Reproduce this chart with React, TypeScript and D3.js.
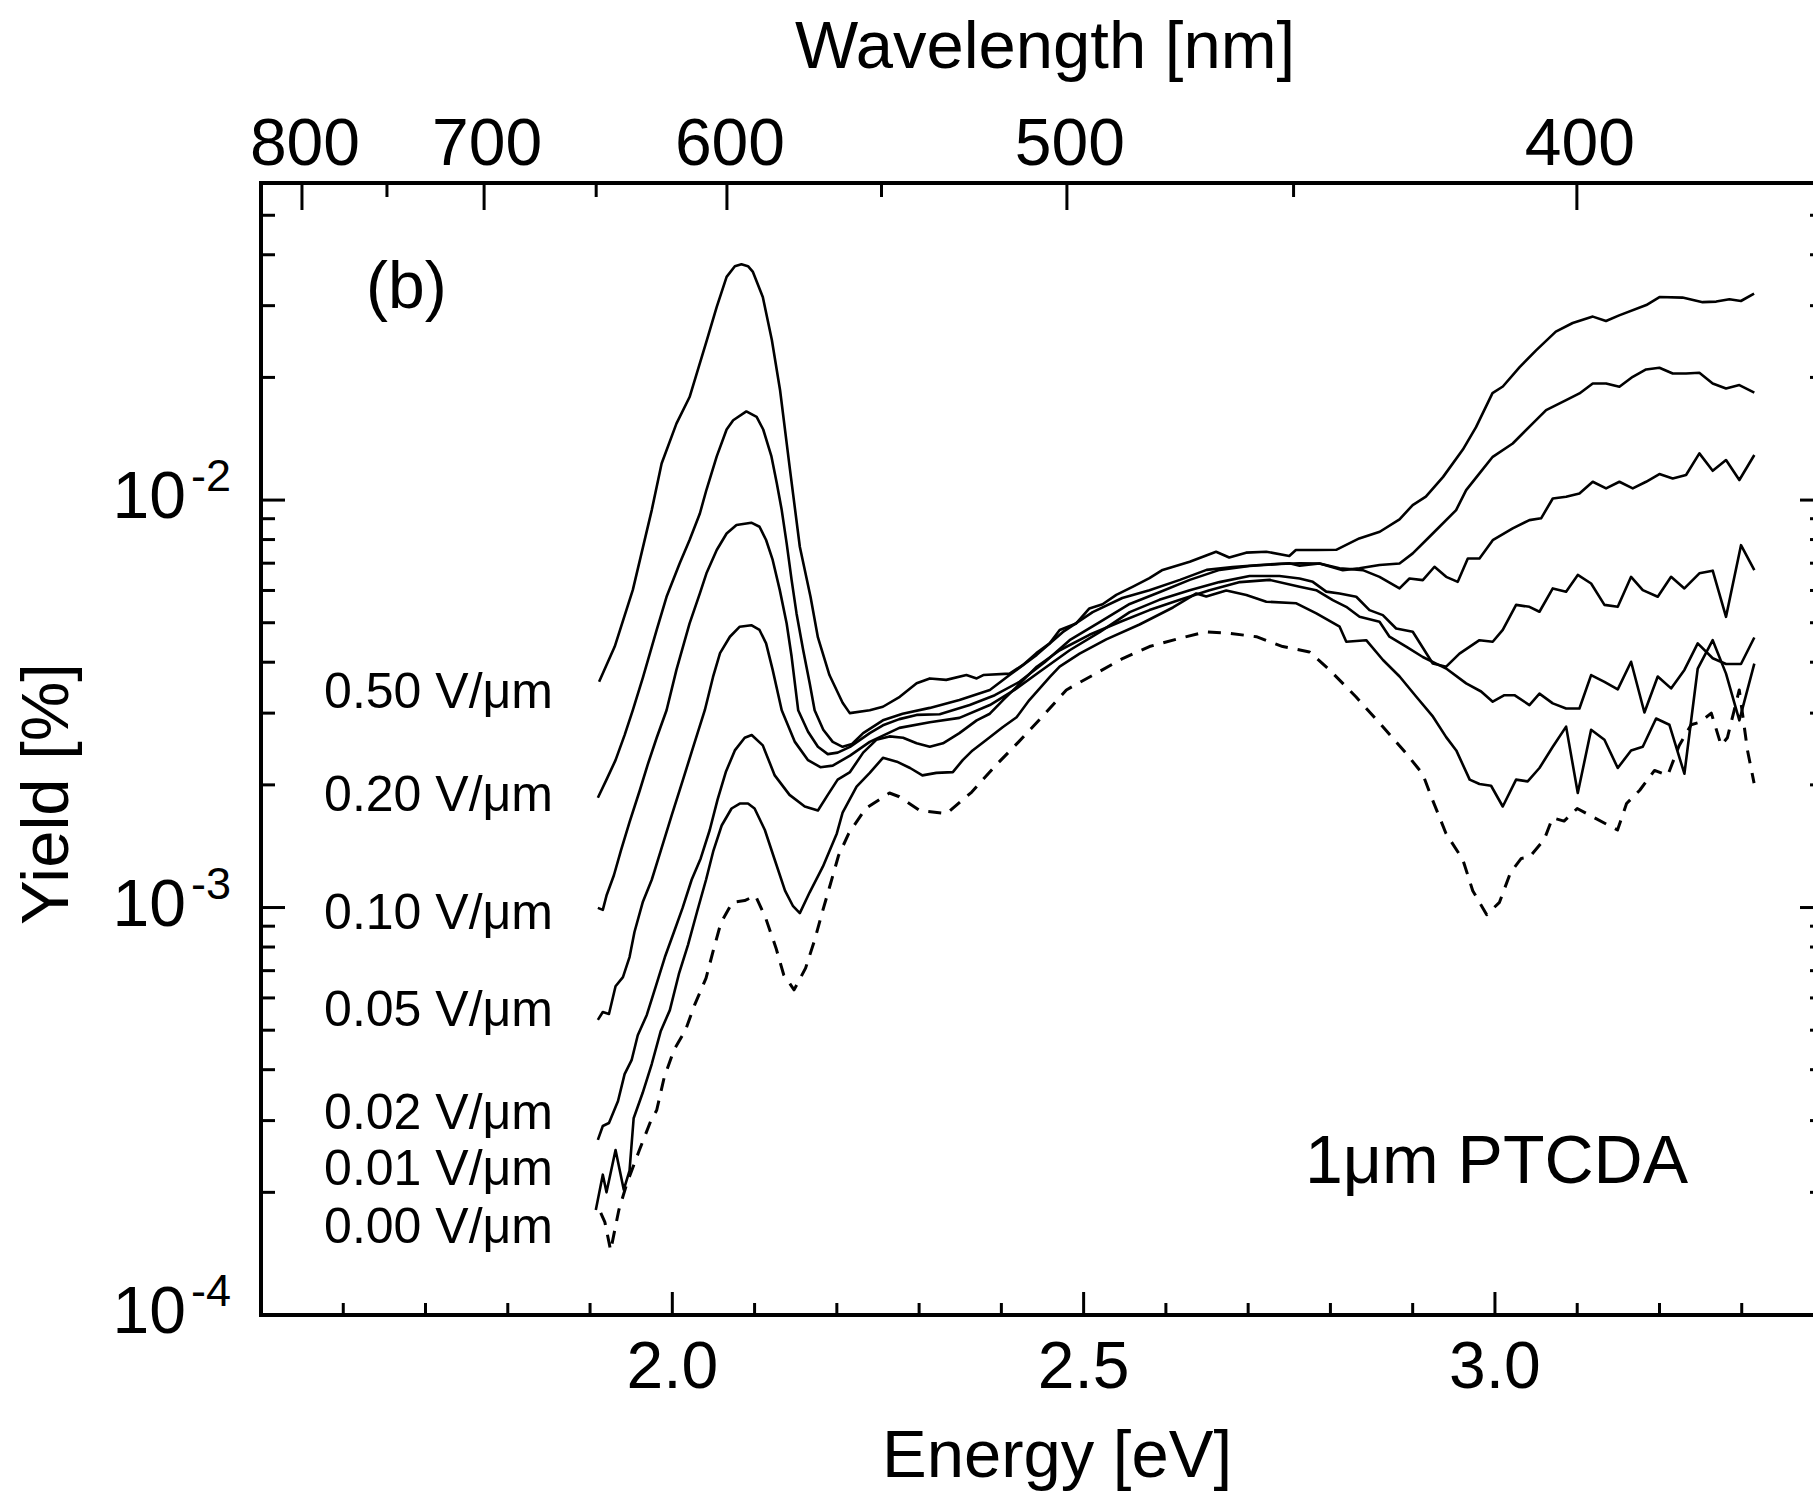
import React from "react";
import * as d3 from "d3";

// ---------- axis definitions ----------
const energyDomain: [number, number] = [1.5, 3.4];
const yieldDomain: [number, number] = [1e-4, 0.06];
const energyMajorTicks = [2.0, 2.5, 3.0];
const energyTickLabels = ["2.0", "2.5", "3.0"];
const wavelengthMajor = [800, 700, 600, 500, 400];
const wavelengthMinor = [750, 650, 550, 450];
const yieldDecades = [1e-4, 1e-3, 1e-2];
const yieldDecadeExp = ["-4", "-3", "-2"];
const HC = 1239.84; // eV*nm

// ---------- series: [energy eV, yield %] ----------
const s050: [number, number][] = [
  [1.911, 3.58e-3], [1.93, 4.37e-3], [1.952, 6.02e-3], [1.975, 9.45e-3], [1.987, 1.23e-2],
  [2.005, 1.54e-2], [2.021, 1.79e-2], [2.042, 2.47e-2], [2.054, 2.98e-2], [2.066, 3.53e-2],
  [2.076, 3.75e-2], [2.084, 3.79e-2], [2.092, 3.75e-2], [2.098, 3.63e-2], [2.11, 3.15e-2],
  [2.121, 2.47e-2], [2.131, 1.86e-2], [2.143, 1.19e-2], [2.155, 7.68e-3], [2.168, 5.79e-3],
  [2.177, 4.6e-3], [2.191, 3.72e-3], [2.207, 3.18e-3], [2.2157, 3.0e-3], [2.24, 3.05e-3],
  [2.256, 3.11e-3], [2.2765, 3.29e-3], [2.297, 3.55e-3], [2.313, 3.65e-3], [2.333, 3.62e-3],
  [2.3575, 3.72e-3], [2.37, 3.65e-3], [2.378, 3.72e-3], [2.41, 3.75e-3], [2.4263, 3.94e-3],
  [2.4425, 4.21e-3], [2.4587, 4.45e-3], [2.4709, 4.8e-3], [2.491, 4.98e-3], [2.507, 5.42e-3],
  [2.523, 5.55e-3], [2.5397, 5.85e-3], [2.56, 6.13e-3], [2.58, 6.43e-3], [2.596, 6.74e-3],
  [2.629, 7.06e-3], [2.661, 7.47e-3], [2.677, 7.23e-3], [2.6975, 7.43e-3], [2.722, 7.47e-3],
  [2.75, 7.29e-3], [2.758, 7.54e-3], [2.783, 7.54e-3], [2.807, 7.55e-3], [2.835, 8.05e-3],
  [2.86, 8.36e-3], [2.884, 8.97e-3], [2.9, 9.72e-3], [2.916, 1.02e-2], [2.937, 1.14e-2],
  [2.961, 1.33e-2], [2.977, 1.51e-2], [2.997, 1.83e-2], [3.0096, 1.9e-2], [3.03, 2.12e-2],
  [3.05, 2.33e-2], [3.074, 2.59e-2], [3.0945, 2.72e-2], [3.119, 2.82e-2], [3.135, 2.75e-2],
  [3.151, 2.84e-2], [3.184, 3.01e-2], [3.2, 3.15e-2], [3.228, 3.14e-2], [3.2525, 3.06e-2],
  [3.269, 3.07e-2], [3.285, 3.11e-2], [3.299, 3.08e-2], [3.315, 3.21e-2],
];

const s020: [number, number][] = [
  [1.9095, 1.86e-3], [1.92, 2.06e-3], [1.931, 2.3e-3], [1.942, 2.65e-3], [1.952, 3.05e-3],
  [1.9645, 3.68e-3], [1.981, 4.8e-3], [1.993, 5.79e-3], [2.009, 7.0e-3], [2.021, 7.98e-3],
  [2.0335, 9.27e-3], [2.0415, 1.06e-2], [2.054, 1.28e-2], [2.066, 1.49e-2], [2.074, 1.57e-2],
  [2.09, 1.65e-2], [2.1025, 1.6e-2], [2.1105, 1.49e-2], [2.1205, 1.28e-2], [2.127, 1.1e-2],
  [2.133, 9.45e-3], [2.139, 7.83e-3], [2.145, 6.37e-3], [2.151, 5.27e-3], [2.159, 4.29e-3],
  [2.167, 3.55e-3], [2.173, 3.05e-3], [2.1835, 2.73e-3], [2.195, 2.55e-3], [2.207, 2.48e-3],
  [2.2185, 2.52e-3], [2.232, 2.68e-3], [2.256, 2.88e-3], [2.28, 2.99e-3], [2.313, 3.09e-3],
  [2.349, 3.23e-3], [2.386, 3.42e-3], [2.41, 3.72e-3], [2.443, 4.17e-3], [2.4745, 4.74e-3],
  [2.511, 5.31e-3], [2.547, 5.75e-3], [2.58, 6.01e-3], [2.617, 6.37e-3], [2.6495, 6.74e-3],
  [2.681, 6.85e-3], [2.714, 6.93e-3], [2.75, 7.0e-3], [2.7625, 6.9e-3], [2.7868, 6.99e-3],
  [2.8151, 6.73e-3], [2.8354, 6.8e-3], [2.8597, 6.93e-3], [2.884, 6.99e-3], [2.9001, 7.4e-3],
  [2.9244, 8.28e-3], [2.9528, 9.45e-3], [2.965, 1.058e-2], [2.9812, 1.163e-2], [2.9973, 1.277e-2],
  [3.0216, 1.377e-2], [3.046, 1.542e-2], [3.0622, 1.663e-2], [3.0865, 1.759e-2], [3.1027, 1.827e-2],
  [3.1189, 1.933e-2], [3.1351, 1.933e-2], [3.1513, 1.897e-2], [3.1675, 2.007e-2], [3.1837, 2.092e-2],
  [3.1999, 2.112e-2], [3.2161, 2.045e-2], [3.2323, 2.045e-2], [3.2485, 2.053e-2], [3.2647, 1.933e-2],
  [3.2809, 1.879e-2], [3.2971, 1.915e-2], [3.3153, 1.836e-2],
];

const s010: [number, number][] = [
  [1.9095, 9.98e-4], [1.9155, 9.87e-4], [1.92, 1.07e-3], [1.929, 1.2e-3], [1.9375, 1.38e-3],
  [1.948, 1.62e-3], [1.9605, 1.94e-3], [1.97, 2.24e-3], [1.981, 2.61e-3], [1.993, 3.05e-3],
  [2.005, 3.83e-3], [2.021, 4.98e-3], [2.0335, 5.9e-3], [2.0415, 6.61e-3], [2.054, 7.54e-3],
  [2.066, 8.28e-3], [2.078, 8.69e-3], [2.096, 8.8e-3], [2.106, 8.6e-3], [2.114, 7.98e-3],
  [2.122, 7.13e-3], [2.1306, 6.02e-3], [2.139, 4.98e-3], [2.145, 4.13e-3], [2.153, 3.05e-3],
  [2.165, 2.7e-3], [2.177, 2.48e-3], [2.189, 2.38e-3], [2.201, 2.4e-3], [2.216, 2.48e-3],
  [2.24, 2.68e-3], [2.256, 2.8e-3], [2.276, 2.9e-3], [2.297, 2.97e-3], [2.325, 2.98e-3],
  [2.3615, 3.14e-3], [2.392, 3.32e-3], [2.422, 3.58e-3], [2.4526, 4.0e-3], [2.483, 4.53e-3],
  [2.5195, 5.02e-3], [2.556, 5.56e-3], [2.592, 5.94e-3], [2.629, 6.37e-3], [2.6653, 6.74e-3],
  [2.7017, 6.89e-3], [2.738, 6.97e-3], [2.7625, 7.0e-3], [2.7868, 6.99e-3], [2.8111, 6.8e-3],
  [2.8394, 6.73e-3], [2.8597, 6.48e-3], [2.884, 6.07e-3], [2.8961, 6.42e-3], [2.9123, 6.36e-3],
  [2.9265, 6.86e-3], [2.9407, 6.48e-3], [2.9548, 6.3e-3], [2.967, 7.19e-3], [2.9812, 7.19e-3],
  [2.9973, 7.97e-3], [3.0216, 8.52e-3], [3.0419, 8.93e-3], [3.0561, 9.02e-3], [3.0703, 1.009e-2],
  [3.0865, 1.019e-2], [3.1027, 1.038e-2], [3.1189, 1.109e-2], [3.1351, 1.068e-2], [3.1513, 1.109e-2],
  [3.1675, 1.068e-2], [3.1837, 1.109e-2], [3.1999, 1.158e-2], [3.2161, 1.13e-2], [3.2323, 1.152e-2],
  [3.2485, 1.302e-2], [3.2647, 1.18e-2], [3.2809, 1.254e-2], [3.2971, 1.12e-2], [3.3153, 1.29e-2],
];

const s005: [number, number][] = [
  [1.9095, 5.3e-4], [1.9155, 5.54e-4], [1.923, 5.48e-4], [1.931, 6.41e-4], [1.94, 6.75e-4],
  [1.948, 7.56e-4], [1.954, 8.71e-4], [1.964, 1.03e-3], [1.975, 1.17e-3], [1.986, 1.38e-3],
  [1.9995, 1.69e-3], [2.013, 2.06e-3], [2.026, 2.5e-3], [2.0395, 3.05e-3], [2.0495, 3.68e-3],
  [2.058, 4.21e-3], [2.07, 4.62e-3], [2.082, 4.89e-3], [2.096, 4.93e-3], [2.106, 4.8e-3],
  [2.114, 4.45e-3], [2.122, 3.83e-3], [2.133, 3.05e-3], [2.149, 2.55e-3], [2.165, 2.3e-3],
  [2.18, 2.21e-3], [2.195, 2.23e-3], [2.216, 2.36e-3], [2.24, 2.55e-3], [2.276, 2.76e-3],
  [2.313, 2.85e-3], [2.349, 2.92e-3], [2.386, 3.14e-3], [2.416, 3.42e-3], [2.4465, 3.79e-3],
  [2.483, 4.28e-3], [2.5195, 4.74e-3], [2.556, 5.31e-3], [2.592, 5.69e-3], [2.629, 6.01e-3],
  [2.665, 6.29e-3], [2.7017, 6.51e-3], [2.738, 6.51e-3], [2.7625, 6.42e-3], [2.7786, 6.3e-3],
  [2.7949, 5.96e-3], [2.8111, 5.9e-3], [2.8314, 5.79e-3], [2.8475, 5.37e-3], [2.8637, 5.22e-3],
  [2.8799, 4.84e-3], [2.9001, 4.75e-3], [2.9244, 3.97e-3], [2.9407, 3.9e-3], [2.9569, 4.2e-3],
  [2.9812, 4.53e-3], [2.9973, 4.49e-3], [3.0095, 4.8e-3], [3.0257, 5.53e-3], [3.0419, 5.47e-3],
  [3.0541, 5.32e-3], [3.0703, 6.07e-3], [3.0865, 5.96e-3], [3.1007, 6.55e-3], [3.1169, 6.24e-3],
  [3.1331, 5.53e-3], [3.1493, 5.47e-3], [3.1655, 6.48e-3], [3.1797, 6.01e-3], [3.1979, 5.79e-3],
  [3.2141, 6.48e-3], [3.2303, 6.07e-3], [3.2485, 6.61e-3], [3.2647, 6.71e-3], [3.2809, 5.17e-3],
  [3.2991, 7.75e-3], [3.3153, 6.73e-3],
];

const s002: [number, number][] = [
  [1.9095, 2.69e-4], [1.9155, 2.91e-4], [1.923, 2.96e-4], [1.934, 3.35e-4], [1.942, 3.9e-4],
  [1.9505, 4.22e-4], [1.958, 4.86e-4], [1.969, 5.45e-4], [1.98, 6.41e-4], [1.991, 7.56e-4],
  [2.002, 8.71e-4], [2.0125, 9.98e-4], [2.0235, 1.17e-3], [2.0345, 1.32e-3], [2.0455, 1.55e-3],
  [2.055, 1.84e-3], [2.065, 2.15e-3], [2.076, 2.43e-3], [2.088, 2.61e-3], [2.0965, 2.65e-3],
  [2.11, 2.5e-3], [2.1245, 2.11e-3], [2.1425, 1.89e-3], [2.161, 1.77e-3], [2.177, 1.73e-3],
  [2.189, 1.89e-3], [2.201, 2.06e-3], [2.216, 2.15e-3], [2.232, 2.4e-3], [2.248, 2.58e-3],
  [2.264, 2.63e-3], [2.2805, 2.61e-3], [2.297, 2.53e-3], [2.313, 2.48e-3], [2.329, 2.53e-3],
  [2.349, 2.68e-3], [2.37, 2.88e-3], [2.386, 2.99e-3], [2.402, 3.23e-3], [2.4185, 3.48e-3],
  [2.443, 3.9e-3], [2.471, 4.28e-3], [2.507, 4.67e-3], [2.544, 5.02e-3], [2.58, 5.37e-3],
  [2.617, 5.69e-3], [2.653, 6.01e-3], [2.69, 6.29e-3], [2.726, 6.37e-3], [2.7625, 6.13e-3],
  [2.7827, 6.01e-3], [2.8029, 5.68e-3], [2.8192, 5.47e-3], [2.8354, 5.17e-3], [2.8597, 5.03e-3],
  [2.8718, 4.62e-3], [2.8921, 4.37e-3], [2.9123, 4.12e-3], [2.9285, 3.97e-3], [2.9407, 3.86e-3],
  [2.965, 3.55e-3], [2.9832, 3.39e-3], [2.9973, 3.2e-3], [3.0115, 3.32e-3], [3.0237, 3.32e-3],
  [3.0419, 3.14e-3], [3.0541, 3.35e-3], [3.0703, 3.17e-3], [3.0865, 3.08e-3], [3.1027, 3.08e-3],
  [3.1169, 3.72e-3], [3.1331, 3.58e-3], [3.1493, 3.43e-3], [3.1655, 4.01e-3], [3.1817, 3.01e-3],
  [3.1979, 3.69e-3], [3.2141, 3.45e-3], [3.2303, 3.83e-3], [3.2465, 4.45e-3], [3.2647, 4.09e-3],
  [3.2809, 3.96e-3], [3.2991, 3.96e-3], [3.3153, 4.6e-3],
];

const s001: [number, number][] = [
  [1.907, 1.81e-4], [1.9155, 2.21e-4], [1.92, 2.0e-4], [1.931, 2.54e-4], [1.941, 2.03e-4],
  [1.948, 2.26e-4], [1.953, 3.04e-4], [1.964, 3.51e-4], [1.975, 4.13e-4], [1.986, 4.98e-4],
  [1.997, 5.6e-4], [2.008, 6.87e-4], [2.019, 8.09e-4], [2.03, 9.75e-4], [2.041, 1.17e-3],
  [2.05, 1.38e-3], [2.06, 1.59e-3], [2.072, 1.75e-3], [2.082, 1.8e-3], [2.092, 1.8e-3],
  [2.1, 1.75e-3], [2.1125, 1.55e-3], [2.1245, 1.31e-3], [2.137, 1.1e-3], [2.1465, 1.01e-3],
  [2.155, 9.69e-4], [2.167, 1.09e-3], [2.183, 1.26e-3], [2.2, 1.52e-3], [2.207, 1.71e-3],
  [2.224, 1.98e-3], [2.24, 2.14e-3], [2.256, 2.33e-3], [2.273, 2.28e-3], [2.289, 2.2e-3],
  [2.304, 2.11e-3], [2.321, 2.14e-3], [2.341, 2.15e-3], [2.353, 2.3e-3], [2.365, 2.43e-3],
  [2.382, 2.58e-3], [2.4015, 2.77e-3], [2.4185, 2.93e-3], [2.434, 3.23e-3], [2.459, 3.68e-3],
  [2.4708, 3.9e-3], [2.4951, 4.2e-3], [2.5275, 4.55e-3], [2.568, 4.95e-3], [2.6086, 5.45e-3],
  [2.637, 5.9e-3], [2.6491, 5.8e-3], [2.6734, 6.0e-3], [2.6978, 5.85e-3], [2.7221, 5.63e-3],
  [2.7586, 5.58e-3], [2.7829, 5.27e-3], [2.8112, 4.89e-3], [2.8193, 4.49e-3], [2.8435, 4.53e-3],
  [2.8639, 4.05e-3], [2.8841, 3.69e-3], [2.9044, 3.29e-3], [2.9247, 2.94e-3], [2.9407, 2.62e-3],
  [2.953, 2.43e-3], [2.9693, 2.06e-3], [2.9812, 2.01e-3], [2.9953, 1.99e-3], [3.0095, 1.77e-3],
  [3.0257, 2.06e-3], [3.0398, 2.04e-3], [3.0541, 2.2e-3], [3.0703, 2.48e-3], [3.0865, 2.78e-3],
  [3.1007, 1.91e-3], [3.1169, 2.73e-3], [3.1331, 2.58e-3], [3.1493, 2.2e-3], [3.1655, 2.43e-3],
  [3.1797, 2.48e-3], [3.1959, 2.91e-3], [3.212, 2.81e-3], [3.2303, 2.13e-3], [3.2465, 3.86e-3],
  [3.2647, 4.53e-3], [3.2809, 3.75e-3], [3.2971, 2.88e-3], [3.3153, 3.97e-3],
];

const s000: [number, number][] = [
  [1.913, 1.78e-4], [1.918, 1.69e-4], [1.925, 1.44e-4], [1.935, 1.81e-4], [1.945, 2.11e-4],
  [1.96, 2.54e-4], [1.974, 3.0e-4], [1.981, 3.18e-4], [1.99, 3.82e-4], [2.002, 4.47e-4],
  [2.016, 5.0e-4], [2.027, 5.76e-4], [2.041, 6.71e-4], [2.05, 7.87e-4], [2.059, 9.16e-4],
  [2.073, 1.03e-3], [2.088, 1.04e-3], [2.101, 1.07e-3], [2.1135, 9.42e-4], [2.126, 7.96e-4],
  [2.1355, 6.83e-4], [2.148, 6.28e-4], [2.162, 7.1e-4], [2.173, 8.32e-4], [2.182, 9.69e-4],
  [2.191, 1.12e-3], [2.202, 1.34e-3], [2.2145, 1.52e-3], [2.235, 1.75e-3], [2.264, 1.91e-3],
  [2.276, 1.87e-3], [2.301, 1.73e-3], [2.3335, 1.7e-3], [2.364, 1.92e-3], [2.392, 2.22e-3],
  [2.421, 2.55e-3], [2.451, 2.96e-3], [2.479, 3.42e-3], [2.5155, 3.76e-3], [2.548, 4.09e-3],
  [2.58, 4.37e-3], [2.617, 4.58e-3], [2.649, 4.75e-3], [2.677, 4.71e-3], [2.71, 4.62e-3],
  [2.742, 4.37e-3], [2.7745, 4.24e-3], [2.799, 3.83e-3], [2.831, 3.29e-3], [2.8635, 2.78e-3],
  [2.892, 2.39e-3], [2.912, 2.13e-3], [2.924, 1.84e-3], [2.9405, 1.52e-3], [2.961, 1.31e-3],
  [2.973, 1.1e-3], [2.99, 9.6e-4], [3.0055, 1.03e-3], [3.019, 1.22e-3], [3.032, 1.32e-3],
  [3.042, 1.33e-3], [3.06, 1.47e-3], [3.07, 1.66e-3], [3.084, 1.63e-3], [3.1, 1.75e-3],
  [3.121, 1.66e-3], [3.149, 1.55e-3], [3.16, 1.8e-3], [3.176, 1.94e-3], [3.194, 2.17e-3],
  [3.21, 2.11e-3], [3.224, 2.5e-3], [3.2385, 2.81e-3], [3.249, 2.85e-3], [3.263, 3.0e-3],
  [3.275, 2.5e-3], [3.2825, 2.61e-3], [3.297, 3.42e-3], [3.307, 2.43e-3], [3.315, 2.02e-3],
];

const seriesList = [s050, s020, s010, s005, s002, s001, s000];
const seriesDashed = [false, false, false, false, false, false, true];

const fieldLabels = ["0.50 V/μm", "0.20 V/μm", "0.10 V/μm", "0.05 V/μm", "0.02 V/μm", "0.01 V/μm", "0.00 V/μm"];
// label baselines expressed in the yield coordinate
const fieldLabelYields = [3.09e-3, 1.726e-3, 8.86e-4, 5.12e-4, 2.86e-4, 2.085e-4, 1.502e-4];

const FONT = "'Liberation Sans', Arial, Helvetica, sans-serif";

export default function App() {
  const W = 1813;
  const H = 1495;
  const x = d3.scaleLinear().domain(energyDomain).range([261, 1824]);
  const y = d3.scaleLog().domain(yieldDomain).range([1315, 183]);
  const yTop = y(yieldDomain[1]);
  const yBot = y(yieldDomain[0]);
  const xL = x(energyDomain[0]);
  const xR = x(energyDomain[1]);

  const line = d3
    .line<[number, number]>()
    .x((d) => x(d[0]))
    .y((d) => y(d[1]));

  const minorE = d3.range(16, 34).map((v) => v / 10).filter((v) => !energyMajorTicks.some((m) => Math.abs(m - v) < 1e-6));
  const logTicks = y.ticks().filter((v) => v > yieldDomain[0] * 1.0001 && v < yieldDomain[1]);
  const isDecade = (v: number) => Math.abs(Math.log10(v) - Math.round(Math.log10(v))) < 1e-6;

  return (
    <div style={{ position: "absolute", left: 0, top: 0, width: W, height: H, overflow: "hidden", background: "#fff" }}>
      <svg width={W} height={H} viewBox={`0 0 ${W} ${H}`} style={{ display: "block" }} fontFamily={FONT}>
        <rect x={0} y={0} width={W} height={H} fill="#fff" />

        {/* curves */}
        {seriesList.map((s, i) => (
          <path
            key={i}
            d={line(s) || ""}
            fill="none"
            stroke="#000"
            strokeWidth={seriesDashed[i] ? 3 : 2.6}
            strokeDasharray={seriesDashed[i] ? "13 10" : undefined}
            strokeLinejoin="round"
          />
        ))}

        {/* frame */}
        <line x1={xL} y1={yTop} x2={xL} y2={yBot + 2} stroke="#000" strokeWidth={4} />
        <line x1={xL - 2} y1={yBot} x2={W + 5} y2={yBot} stroke="#000" strokeWidth={4} />
        <line x1={xL - 2} y1={yTop} x2={W + 5} y2={yTop} stroke="#000" strokeWidth={4} />
        <line x1={xR} y1={yTop} x2={xR} y2={yBot} stroke="#000" strokeWidth={4} />

        {/* bottom ticks */}
        {energyMajorTicks.map((e) => (
          <line key={"bM" + e} x1={x(e)} x2={x(e)} y1={yBot} y2={yBot - 23} stroke="#000" strokeWidth={3} />
        ))}
        {minorE.map((e) => (
          <line key={"bm" + e} x1={x(e)} x2={x(e)} y1={yBot} y2={yBot - 12} stroke="#000" strokeWidth={3} />
        ))}
        {energyMajorTicks.map((e, i) => (
          <text key={"bl" + e} x={x(e)} y={1388} fontSize={66} textAnchor="middle" fill="#000">
            {energyTickLabels[i]}
          </text>
        ))}

        {/* top wavelength ticks */}
        {wavelengthMajor.map((w) => (
          <line key={"tM" + w} x1={x(HC / w)} x2={x(HC / w)} y1={yTop} y2={yTop + 27} stroke="#000" strokeWidth={3} />
        ))}
        {wavelengthMinor.map((w) => (
          <line key={"tm" + w} x1={x(HC / w)} x2={x(HC / w)} y1={yTop} y2={yTop + 14} stroke="#000" strokeWidth={3} />
        ))}
        {wavelengthMajor.map((w) => (
          <text key={"tl" + w} x={x(HC / w) + 3} y={165} fontSize={66} textAnchor="middle" fill="#000">
            {w}
          </text>
        ))}

        {/* left and right log ticks */}
        {logTicks.map((v) => {
          const len = isDecade(v) ? 24 : 14;
          return (
            <g key={"lt" + v}>
              <line x1={xL} x2={xL + len} y1={y(v)} y2={y(v)} stroke="#000" strokeWidth={3} />
              <line x1={xR} x2={xR - len} y1={y(v)} y2={y(v)} stroke="#000" strokeWidth={3} />
            </g>
          );
        })}
        {yieldDecades.map((v, i) => (
          <g key={"dl" + v}>
            <text x={186} y={y(v) + 18} fontSize={66} textAnchor="end" fill="#000">
              10
            </text>
            <text x={191} y={y(v) - 9} fontSize={45} textAnchor="start" fill="#000">
              {yieldDecadeExp[i]}
            </text>
          </g>
        ))}

        {/* axis titles */}
        <text x={1045} y={68} fontSize={67} textAnchor="middle" fill="#000">
          Wavelength [nm]
        </text>
        <text x={1057} y={1477} fontSize={67} textAnchor="middle" fill="#000">
          Energy [eV]
        </text>
        <text x={68} y={794} fontSize={67} textAnchor="middle" fill="#000" transform="rotate(-90 68 794)">
          Yield [%]
        </text>

        {/* annotations */}
        <text x={366} y={308} fontSize={66} fill="#000">
          (b)
        </text>
        <text x={1688} y={1183} fontSize={68} textAnchor="end" fill="#000">
          1μm PTCDA
        </text>
        {fieldLabels.map((t, i) => (
          <text key={t} x={553} y={y(fieldLabelYields[i])} fontSize={50} textAnchor="end" fill="#000">
            {t}
          </text>
        ))}
      </svg>
    </div>
  );
}
